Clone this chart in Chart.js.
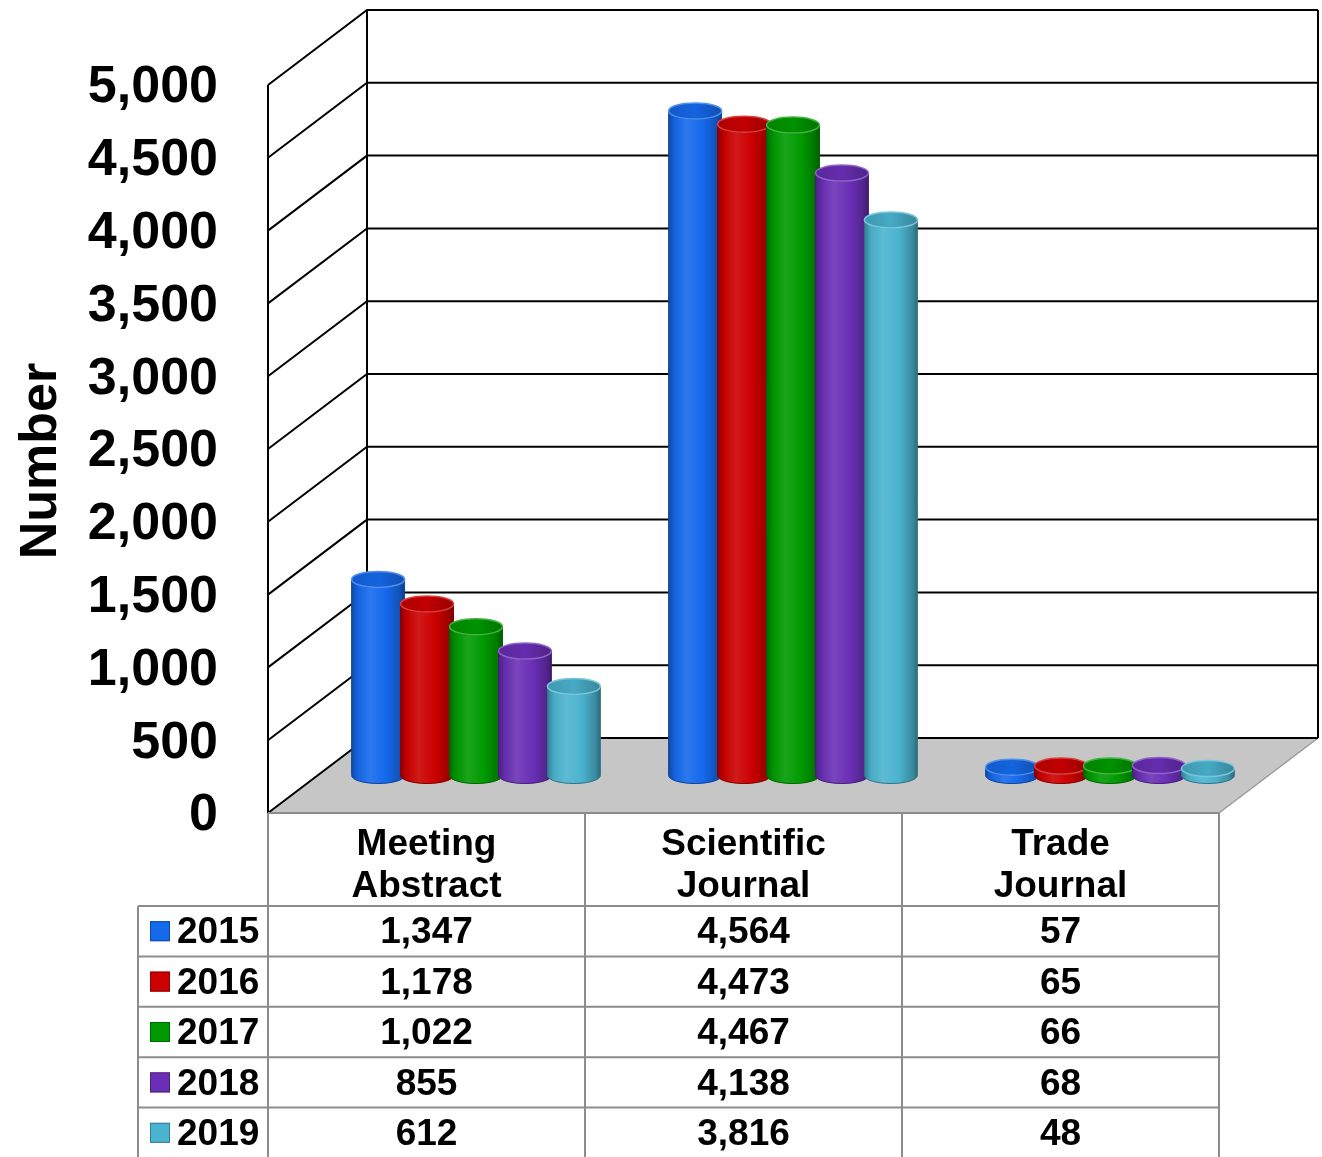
<!DOCTYPE html>
<html>
<head>
<meta charset="utf-8">
<script src="https://cdn.jsdelivr.net/npm/chart.js@4.4.1/dist/chart.umd.min.js"></script>
<style>
  html, body { margin: 0; padding: 0; background: #ffffff; }
  canvas { display: block; }
</style>
</head>
<body>
<canvas id="chart" width="1322" height="1157"></canvas>
<script>
// Publication counts by type and year
const categories = [['Meeting', 'Abstract'], ['Scientific', 'Journal'], ['Trade', 'Journal']];
const years = ['2015', '2016', '2017', '2018', '2019'];
const counts2015 = [1347, 4564, 57];
const counts2016 = [1178, 4473, 65];
const counts2017 = [1022, 4467, 66];
const counts2018 = [855, 4138, 68];
const counts2019 = [612, 3816, 48];
const yearColors = ['#1569ec', '#cc0000', '#009a00', '#6a2fb6', '#4bb3cf'];
const axisTitle = 'Number';
const yMin = 0, yMax = 5000, yStep = 500;

const series = [counts2015, counts2016, counts2017, counts2018, counts2019];

// Depth of the 3D box (offset of the back wall from the front plane)
const DEPTH_X = 99;
const DEPTH_Y = -75;
const FONT = '"Liberation Sans", Arial, Helvetica, sans-serif';
const fmt = v => v.toLocaleString('en-US');

function shade(hex, amt) {
  const n = parseInt(hex.slice(1), 16);
  const r = n >> 16, g = (n >> 8) & 255, b = n & 255;
  const f = c => amt >= 0 ? Math.round(c + (255 - c) * amt) : Math.round(c * (1 + amt));
  return `rgb(${f(r)},${f(g)},${f(b)})`;
}

function drawCylinder(ctx, cx, yTop, yBase, rx, ry, color) {
  const body = ctx.createLinearGradient(cx - rx, 0, cx + rx, 0);
  body.addColorStop(0, shade(color, -0.30));
  body.addColorStop(0.12, shade(color, -0.05));
  body.addColorStop(0.35, shade(color, 0.10));
  body.addColorStop(0.65, color);
  body.addColorStop(0.9, shade(color, -0.22));
  body.addColorStop(1, shade(color, -0.40));
  ctx.beginPath();
  ctx.moveTo(cx - rx, yTop);
  ctx.lineTo(cx - rx, yBase);
  ctx.ellipse(cx, yBase, rx, ry, 0, Math.PI, 0, true);
  ctx.lineTo(cx + rx, yTop);
  ctx.ellipse(cx, yTop, rx, ry, 0, 0, Math.PI, false);
  ctx.closePath();
  ctx.fillStyle = body;
  ctx.fill();
  ctx.lineWidth = 1;
  ctx.strokeStyle = shade(color, -0.35);
  ctx.stroke();

  const cap = ctx.createLinearGradient(cx - rx, 0, cx + rx, 0);
  cap.addColorStop(0, shade(color, -0.15));
  cap.addColorStop(0.5, shade(color, -0.05));
  cap.addColorStop(1, shade(color, -0.25));
  ctx.beginPath();
  ctx.ellipse(cx, yTop, rx, ry, 0, 0, Math.PI * 2);
  ctx.fillStyle = cap;
  ctx.fill();
  ctx.lineWidth = 1.5;
  ctx.strokeStyle = shade(color, 0.25);
  ctx.stroke();
}

const box3d = {
  id: 'box3d',
  beforeDatasetsDraw(chart) {
    const { ctx, chartArea: a, scales: { y } } = chart;
    const top = y.getPixelForValue(yMax);
    ctx.save();
    // floor
    ctx.beginPath();
    ctx.moveTo(a.left, a.bottom);
    ctx.lineTo(a.left + DEPTH_X, a.bottom + DEPTH_Y);
    ctx.lineTo(a.right + DEPTH_X, a.bottom + DEPTH_Y);
    ctx.lineTo(a.right, a.bottom);
    ctx.closePath();
    ctx.fillStyle = '#c6c6c6';
    ctx.fill();
    ctx.strokeStyle = '#9a9a9a';
    ctx.lineWidth = 1.5;
    ctx.beginPath();
    ctx.moveTo(a.right + DEPTH_X, a.bottom + DEPTH_Y);
    ctx.lineTo(a.right, a.bottom);
    ctx.stroke();

    // gridlines on side wall and back wall
    ctx.strokeStyle = '#000000';
    ctx.lineWidth = 2;
    ctx.beginPath();
    y.ticks.forEach(t => {
      const py = y.getPixelForValue(t.value);
      ctx.moveTo(a.left, py);
      ctx.lineTo(a.left + DEPTH_X, py + DEPTH_Y);
      ctx.lineTo(a.right + DEPTH_X, py + DEPTH_Y);
    });
    ctx.moveTo(a.left, top);
    ctx.lineTo(a.left, a.bottom);
    ctx.moveTo(a.left + DEPTH_X, top + DEPTH_Y);
    ctx.lineTo(a.left + DEPTH_X, a.bottom + DEPTH_Y);
    ctx.moveTo(a.right + DEPTH_X, top + DEPTH_Y);
    ctx.lineTo(a.right + DEPTH_X, a.bottom + DEPTH_Y);
    ctx.stroke();
    ctx.restore();
  },
  afterDatasetsDraw(chart) {
    const { ctx, scales: { y } } = chart;
    const base = y.getPixelForValue(0) + DEPTH_Y / 2;
    ctx.save();
    series.forEach((vals, i) => {
      const meta = chart.getDatasetMeta(i);
      meta.data.forEach(bar => {
        const rx = bar.width / 2 + 2;
        drawCylinder(ctx, bar.x + DEPTH_X / 2, bar.y + DEPTH_Y / 2, base, rx, 8, yearColors[i]);
      });
    });
    ctx.restore();
  },
  afterDraw(chart) {
    const { ctx, chartArea: a } = chart;
    const colW = (a.right - a.left) / categories.length;
    const headerH = 93;
    const rowH = 50.4;
    const legendLeft = 138;
    const tableTop = a.bottom;
    const rowsTop = tableTop + headerH;
    const tableBottom = rowsTop + rowH * years.length;
    ctx.save();

    // axis title
    ctx.fillStyle = '#000';
    ctx.font = `bold 52px ${FONT}`;
    ctx.textAlign = 'center';
    ctx.textBaseline = 'alphabetic';
    ctx.translate(56, 461);
    ctx.rotate(-Math.PI / 2);
    ctx.fillText(axisTitle, 0, 0);
    ctx.setTransform(1, 0, 0, 1, 0, 0);

    // table grid
    ctx.strokeStyle = '#8c8c8c';
    ctx.lineWidth = 2;
    ctx.beginPath();
    ctx.moveTo(a.left, tableTop);
    ctx.lineTo(a.right, tableTop);
    for (let c = 0; c <= categories.length; c++) {
      const x = a.left + colW * c;
      ctx.moveTo(x, tableTop);
      ctx.lineTo(x, tableBottom);
    }
    ctx.moveTo(legendLeft, rowsTop);
    ctx.lineTo(legendLeft, tableBottom);
    for (let r = 0; r < years.length; r++) {
      const yy = rowsTop + rowH * r;
      ctx.moveTo(legendLeft, yy);
      ctx.lineTo(a.right, yy);
    }
    ctx.stroke();

    // header labels
    ctx.fillStyle = '#000';
    ctx.font = `bold 37px ${FONT}`;
    ctx.textAlign = 'center';
    ctx.textBaseline = 'middle';
    categories.forEach((lines, c) => {
      const cx = a.left + colW * (c + 0.5);
      lines.forEach((ln, k) => ctx.fillText(ln, cx, tableTop + 32 + k * 42));
    });

    // rows: legend key + values
    years.forEach((yr, r) => {
      const cy = rowsTop + rowH * (r + 0.5);
      ctx.fillStyle = yearColors[r];
      ctx.fillRect(150, cy - 10, 20, 20);
      ctx.strokeStyle = shade(yearColors[r], -0.3);
      ctx.lineWidth = 1;
      ctx.strokeRect(150.5, cy - 9.5, 19, 19);
      ctx.fillStyle = '#000';
      ctx.textAlign = 'left';
      ctx.fillText(yr, 177, cy + 2);
      ctx.textAlign = 'center';
      series[r].forEach((v, c) => {
        ctx.fillText(fmt(v), a.left + colW * (c + 0.5), cy + 2);
      });
    });
    ctx.restore();
  }
};

new Chart(document.getElementById('chart'), {
  type: 'bar',
  data: {
    labels: categories.map(l => l.join(' ')),
    datasets: years.map((yr, i) => ({
      label: yr,
      data: series[i],
      backgroundColor: 'rgba(0,0,0,0)',
      borderWidth: 0,
      categoryPercentage: 0.772,
      barPercentage: 1.0
    }))
  },
  options: {
    responsive: false,
    animation: false,
    layout: { padding: { top: 85, right: 103, bottom: 344, left: 0 } },
    plugins: {
      legend: { display: false },
      tooltip: { enabled: false },
      title: { display: false }
    },
    scales: {
      x: { display: false, grid: { display: false } },
      y: {
        min: yMin,
        max: yMax,
        afterFit: s => { s.width = 268; },
        grid: { display: false, drawTicks: false },
        border: { display: false },
        ticks: {
          stepSize: yStep,
          padding: 50,
          labelOffset: 3,
          color: '#000',
          font: { family: FONT, size: 52, weight: 'bold' },
          callback: v => fmt(v)
        }
      }
    }
  },
  plugins: [box3d]
});
</script>
</body>
</html>
